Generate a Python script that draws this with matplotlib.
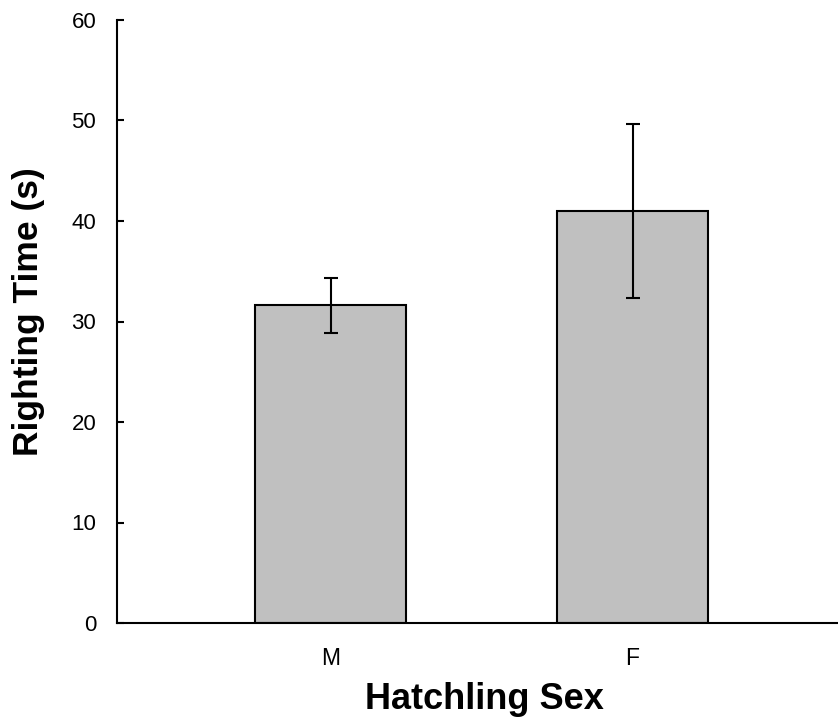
import matplotlib
matplotlib.use("Agg")
import matplotlib.pyplot as plt

# Data
sexes = ["M", "F"]
righting_time = [31.6, 41.0]
sem = [2.7, 8.7]

plt.rcParams['font.family'] = ['Liberation Sans', 'DejaVu Sans']

fig = plt.figure(figsize=(8.38, 7.21), dpi=100)
ax = fig.add_axes([117 / 838, 1 - 623 / 721, 1 - 117 / 838, (623 - 20) / 721])

pos = [1, 2]
ax.bar(pos, righting_time, width=0.5, color='#c0c0c0', edgecolor='black', linewidth=1.5,
       yerr=sem, error_kw=dict(ecolor='black', elinewidth=1.5, capsize=4.7, capthick=1.5))

ax.set_xlim(0.293, 2.68)
ax.set_ylim(0, 60)
ax.set_yticks(range(0, 61, 10))
ax.set_xticks(pos)
ax.set_xticklabels(sexes)

for s in ['top', 'right']:
    ax.spines[s].set_visible(False)
for s in ['left', 'bottom']:
    ax.spines[s].set_linewidth(1.5)

ax.tick_params(axis='y', direction='in', length=5, width=1.5, labelsize=16, pad=15)
ax.tick_params(axis='x', length=0, labelsize=16.5, pad=17)

ax.set_xlabel('Hatchling Sex', fontsize=26, fontweight='bold', labelpad=9)
ax.xaxis.label.set_x(0.51)
ax.set_ylabel('Righting Time (s)', fontsize=25.5, fontweight='bold')
ax.yaxis.set_label_coords(-0.1, 0.517)

plt.savefig('out.png', dpi=100)
